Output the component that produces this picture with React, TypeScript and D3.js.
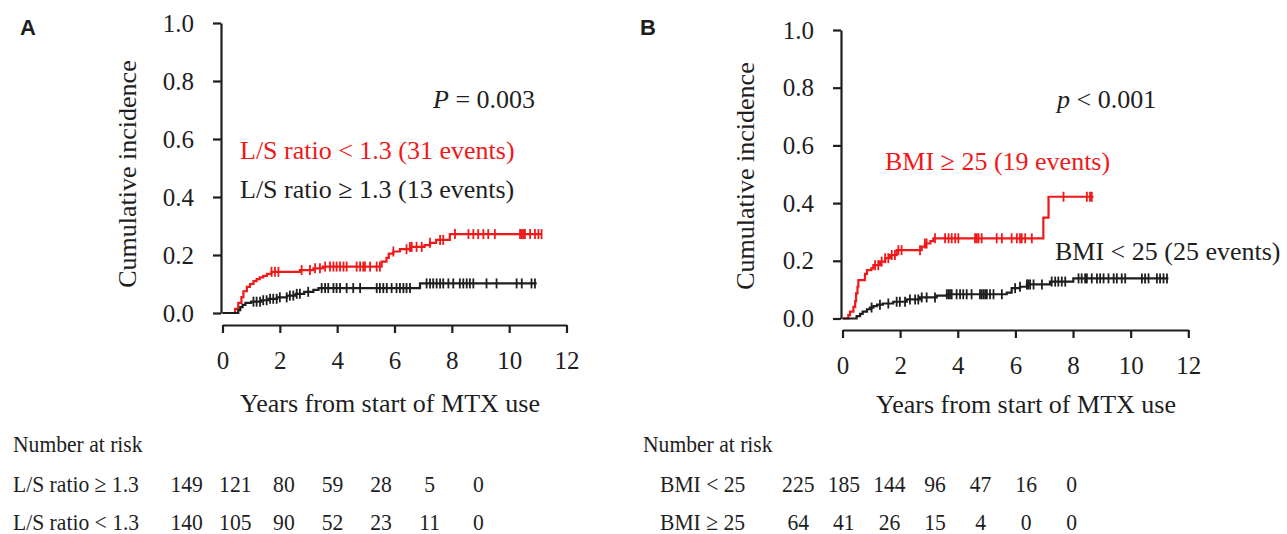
import React, { useEffect, useRef } from 'react';
import * as d3 from 'd3';

const W = 1287;
const H = 534;
const RED = '#f01818';
const INK = '#1e1e1e';
const SERIF = "'Liberation Serif', 'DejaVu Serif', serif";
const SANS = "'Liberation Sans', 'DejaVu Sans', sans-serif";

const yTicks = [0, 0.2, 0.4, 0.6, 0.8, 1.0];
const xTicks = [0, 2, 4, 6, 8, 10, 12];
const riskTimes = [0, 2, 4, 6, 8, 10, 12];

// panel A, L/S ratio < 1.3 (red)
const aLowSteps: [number, number][] = [
  [0, 0], [0.44, 0.014], [0.55, 0.035], [0.66, 0.055], [0.73, 0.075], [0.85, 0.09],
  [0.96, 0.1], [1.08, 0.11], [1.19, 0.117], [1.3, 0.123], [1.42, 0.128], [1.55, 0.135],
  [1.71, 0.142], [2.7, 0.148], [3.17, 0.154], [3.5, 0.16], [5.55, 0.177], [5.72, 0.19],
  [5.8, 0.205], [5.96, 0.212], [6.19, 0.22], [6.54, 0.228], [7.05, 0.234], [7.24, 0.242],
  [7.45, 0.252], [7.93, 0.272],
];
const aLowEnd = 11.13;
const aLowCensor = [
  1.71, 1.83, 1.95, 2.76, 3.05, 3.23, 3.4, 3.58, 3.75, 3.87, 3.98, 4.1, 4.22, 4.33, 4.68,
  4.8, 4.91, 4.97, 5.15, 5.38, 5.49, 5.96, 6.42, 6.54, 6.6, 6.77, 6.95, 7.24, 7.59, 7.7,
  8.11, 8.58, 8.75, 8.92, 9.1, 9.27, 9.5, 10.38, 10.44, 10.49, 10.55, 10.73, 10.9, 11.02, 11.13,
];

// panel A, L/S ratio >= 1.3 (black)
const aHighSteps: [number, number][] = [
  [0, 0], [0.55, 0.01], [0.62, 0.02], [0.7, 0.028], [0.8, 0.035], [1.0, 0.039], [1.35, 0.044],
  [1.6, 0.049], [1.9, 0.054], [2.25, 0.06], [2.55, 0.066], [2.85, 0.073], [3.17, 0.08],
  [3.35, 0.086], [6.89, 0.102],
];
const aHighEnd = 10.96;
const aHighCensor = [
  1.08, 1.19, 1.31, 1.42, 1.54, 1.66, 1.77, 1.89, 2.0, 2.24, 2.35, 2.47, 2.59, 2.7, 2.99,
  3.46, 3.58, 3.69, 3.87, 3.98, 4.1, 4.33, 4.56, 4.8, 5.38, 5.49, 5.61, 5.73, 5.9, 6.07,
  6.19, 6.31, 6.42, 6.54, 7.12, 7.24, 7.35, 7.47, 7.59, 7.7, 7.88, 8.05, 8.28, 8.4, 8.52,
  8.63, 8.75, 9.21, 9.56, 10.26, 10.44, 10.78, 10.9,
];

const aRiskHigh = [149, 121, 80, 59, 28, 5, 0];
const aRiskLow = [140, 105, 90, 52, 23, 11, 0];

// panel B, BMI >= 25 (red)
const bHighSteps: [number, number][] = [
  [0, 0], [0.2, 0.012], [0.26, 0.024], [0.38, 0.04], [0.44, 0.06], [0.47, 0.087], [0.52, 0.11],
  [0.55, 0.133], [0.78, 0.155], [0.85, 0.168], [1.0, 0.174], [1.07, 0.185], [1.3, 0.197],
  [1.48, 0.209], [1.65, 0.22], [1.88, 0.237], [2.75, 0.249], [2.86, 0.26], [3.05, 0.268],
  [3.15, 0.278], [6.97, 0.35], [7.15, 0.422],
];
const bHighEnd = 8.71;
const bHighCensor = [
  1.13, 1.24, 1.36, 1.48, 1.59, 1.71, 1.82, 1.94, 2.05, 2.69, 2.86, 2.92, 3.21, 3.56, 3.68,
  3.79, 3.91, 4.02, 4.6, 4.66, 4.72, 4.83, 5.35, 5.53, 5.87, 6.05, 6.16, 6.22, 6.34, 6.57,
  7.67, 8.48, 8.59, 8.65,
];

// panel B, BMI < 25 (black)
const bLowSteps: [number, number][] = [
  [0, 0], [0.49, 0.008], [0.61, 0.016], [0.7, 0.024], [0.85, 0.032], [0.95, 0.038], [1.07, 0.043],
  [1.2, 0.048], [1.4, 0.052], [1.76, 0.058], [2.23, 0.066], [2.69, 0.073], [3.27, 0.079],
  [3.62, 0.084], [5.7, 0.09], [5.87, 0.105], [6.16, 0.11], [6.4, 0.118], [7.2, 0.128], [8.01, 0.139],
];
const bLowEnd = 11.31;
const bLowCensor = [
  1.01, 1.3, 1.59, 1.88, 1.99, 2.17, 2.34, 2.52, 2.63, 2.75, 2.92, 3.21, 3.62, 3.68, 3.73,
  3.79, 3.96, 4.08, 4.19, 4.31, 4.48, 4.77, 4.83, 4.89, 4.95, 5.01, 5.12, 5.24, 5.53, 5.99,
  6.16, 6.4, 6.45, 6.51, 6.63, 6.92, 7.26, 7.38, 7.49, 7.61, 7.73, 8.19, 8.3, 8.42, 8.48,
  8.65, 8.83, 8.94, 9.06, 9.23, 9.41, 9.52, 9.69, 9.81, 10.39, 10.5, 10.62, 10.91, 11.02,
  11.14, 11.26,
];

const bRiskLow = [225, 185, 144, 96, 47, 16, 0];
const bRiskHigh = [64, 41, 26, 15, 4, 0, 0];

type Curve = { steps: [number, number][]; end: number; censor: number[]; color: string };

function stepValue(steps: [number, number][], t: number) {
  let v = 0;
  for (const [st, sv] of steps) if (st <= t) v = sv;
  return v;
}

type PanelProps = {
  xRange: [number, number];
  yRange: [number, number];
  xAxisY: number;
  curves: Curve[];
};

function Panel({ xRange, yRange, xAxisY, curves }: PanelProps) {
  const gx = useRef<SVGGElement>(null);
  const gy = useRef<SVGGElement>(null);
  const x = d3.scaleLinear().domain([0, 12]).range(xRange);
  const y = d3.scaleLinear().domain([0, 1]).range(yRange);
  const yAxisX = xRange[0] - 1.5;

  useEffect(() => {
    const ax = d3.select(gx.current!);
    ax.selectAll('*').remove();
    ax.call(
      d3.axisBottom(x).tickValues(xTicks).tickSize(8).tickSizeOuter(0).tickPadding(18)
        .tickFormat(d3.format('d'))
    );
    const ay = d3.select(gy.current!);
    ay.selectAll('*').remove();
    ay.call(
      d3.axisLeft(y).tickValues(yTicks).tickSize(8).tickSizeOuter(0).tickPadding(19)
        .tickFormat(d3.format('.1f'))
    );
    [ax, ay].forEach((g) => {
      g.attr('font-family', null).attr('font-size', null);
      g.select('.domain').attr('stroke', INK).attr('stroke-width', 2.2);
      g.selectAll('.tick line').attr('stroke', INK).attr('stroke-width', 2.2);
      g.selectAll('.tick text')
        .attr('fill', INK)
        .style('font-family', SERIF)
        .style('font-size', '25px');
    });
  }, []);

  const line = d3
    .line<[number, number]>()
    .x((d) => x(d[0]))
    .y((d) => y(d[1]))
    .curve(d3.curveStepAfter);

  return (
    <g>
      <g ref={gx} transform={`translate(0,${xAxisY})`} />
      <g ref={gy} transform={`translate(${yAxisX},0)`} />
      {curves.map((c, i) => {
        const pts: [number, number][] = [...c.steps, [c.end, c.steps[c.steps.length - 1][1]]];
        return (
          <g key={i}>
            <path d={line(pts) || ''} fill="none" stroke={c.color} strokeWidth={2.2} />
            {c.censor.map((t, j) => {
              const cy = y(stepValue(c.steps, t));
              return (
                <line key={j} x1={x(t)} x2={x(t)} y1={cy - 5} y2={cy + 5}
                  stroke={c.color} strokeWidth={1.8} />
              );
            })}
          </g>
        );
      })}
    </g>
  );
}

function RiskTable({ left, labelX, colRange, rows }: {
  left: number; labelX: number; colRange: [number, number];
  rows: { label: string; values: number[] }[];
}) {
  const col = d3.scaleLinear().domain([0, 12]).range(colRange);
  const sx = 0.9;
  const baselines = [492, 530];
  return (
    <g style={{ fontFamily: SERIF, fontSize: '24px' }} fill={INK}>
      <text transform={`translate(${left},452) scale(${sx},1)`}>Number at risk</text>
      {rows.map((r, i) => (
        <g key={i}>
          <text transform={`translate(${labelX},${baselines[i]}) scale(${sx},1)`}>{r.label}</text>
          {r.values.map((v, j) => (
            <text key={j} textAnchor="middle"
              transform={`translate(${col(riskTimes[j])},${baselines[i]}) scale(${sx},1)`}>{v}</text>
          ))}
        </g>
      ))}
    </g>
  );
}

export default function App() {
  return (
    <svg width={W} height={H} style={{ position: 'absolute', left: 0, top: 0, background: '#fff' }}>
      <rect width={W} height={H} fill="#fff" />
      {/* panel letters */}
      <g style={{ fontFamily: SANS, fontSize: '22px', fontWeight: 'bold' }} fill={INK}>
        <text x={20} y={35}>A</text>
        <text x={640} y={35}>B</text>
      </g>

      <Panel
        xRange={[222.5, 566.5]}
        yRange={[313, 23]}
        xAxisY={325}
        curves={[
          { steps: aLowSteps, end: aLowEnd, censor: aLowCensor, color: RED },
          { steps: aHighSteps, end: aHighEnd, censor: aHighCensor, color: INK },
        ]}
      />
      <Panel
        xRange={[842.5, 1188.3]}
        yRange={[318.5, 30]}
        xAxisY={330}
        curves={[
          { steps: bHighSteps, end: bHighEnd, censor: bHighCensor, color: RED },
          { steps: bLowSteps, end: bLowEnd, censor: bLowCensor, color: INK },
        ]}
      />

      <g style={{ fontFamily: SERIF, fontSize: '26px' }} fill={INK}>
        <text x={127} y={174} dy="0.35em" textAnchor="middle" transform="rotate(-90,127,174)">
          Cumulative incidence
        </text>
        <text x={745} y={176} dy="0.35em" textAnchor="middle" transform="rotate(-90,745,176)">
          Cumulative incidence
        </text>
        <text x={390} y={412} textAnchor="middle">Years from start of MTX use</text>
        <text x={1026} y={413} textAnchor="middle">Years from start of MTX use</text>

        <text x={433} y={108}><tspan fontStyle="italic">P</tspan> = 0.003</text>
        <text x={240} y={159} fill={RED}>L/S ratio &lt; 1.3 (31 events)</text>
        <text x={240} y={198}>L/S ratio ≥ 1.3 (13 events)</text>

        <text x={1057} y={108}><tspan fontStyle="italic">p</tspan> &lt; 0.001</text>
        <text x={885} y={170} fill={RED}>BMI ≥ 25 (19 events)</text>
        <text x={1055} y={260}>BMI &lt; 25 (25 events)</text>
      </g>

      <RiskTable
        left={13}
        labelX={13}
        colRange={[186.7, 478.3]}
        rows={[
          { label: 'L/S ratio ≥ 1.3', values: aRiskHigh },
          { label: 'L/S ratio < 1.3', values: aRiskLow },
        ]}
      />
      <RiskTable
        left={643}
        labelX={660}
        colRange={[798.3, 1071.7]}
        rows={[
          { label: 'BMI < 25', values: bRiskLow },
          { label: 'BMI ≥ 25', values: bRiskHigh },
        ]}
      />
    </svg>
  );
}
